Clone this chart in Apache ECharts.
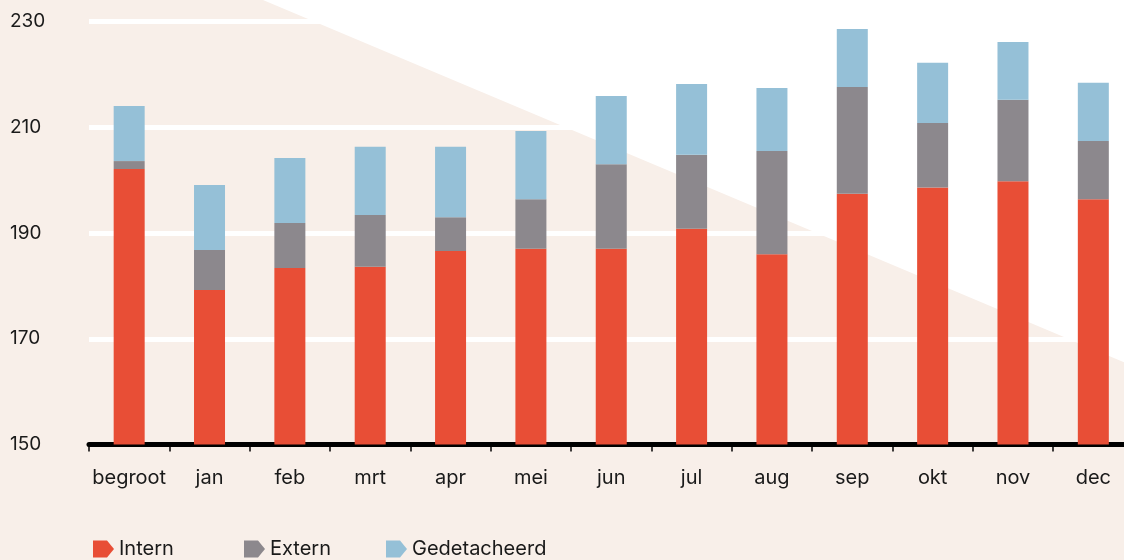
<!DOCTYPE html>
<html>
<head>
<meta charset="utf-8">
<script src="https://cdn.jsdelivr.net/npm/echarts@6/dist/echarts.min.js"></script>
<style>
  html, body { margin: 0; padding: 0; background: #f8efe9; overflow: hidden; }
  #chart { width: 1140px; height: 560px; }
</style>
</head>
<body>
<div id="chart"></div>
<script>
const categories = ['begroot', 'jan', 'feb', 'mrt', 'apr', 'mei', 'jun', 'jul', 'aug', 'sep', 'okt', 'nov', 'dec']
const intern = [202.1, 179.2, 183.4, 183.6, 186.6, 187.0, 187.0, 190.8, 186.0, 197.4, 198.6, 199.8, 196.4]
const extern = [1.5, 7.6, 8.5, 9.8, 6.4, 9.4, 16.0, 14.0, 19.5, 20.2, 12.2, 15.4, 11.0]
const gedetacheerd = [10.4, 12.3, 12.3, 12.9, 13.3, 12.9, 12.9, 13.4, 11.9, 11.0, 11.4, 10.9, 11.0]

const FONT = 'Inter'
const TEXT = '#1a1a1a'
const arrow = 'path://M0,0 L14,0 L21,8.5 L14,17 L0,17 Z'

// the chart runs a bit past the right edge of the window, like the original
var myChart = echarts.init(document.getElementById('chart'))

const legendItem = (name, left) => ({
  data: [name],
  left: left,
  top: 539,
  padding: 0,
  icon: arrow,
  itemWidth: 21,
  itemHeight: 17,
  selectedMode: false,
  textStyle: { fontFamily: FONT, fontSize: 20, color: TEXT, padding: [3, 0, 0, 0] },
})

const barSeries = (name, data, color) => ({
  name: name,
  type: 'bar',
  stack: 'total',
  barWidth: 31,
  itemStyle: { color: color },
  data: data,
})

var option = {
  backgroundColor: '#f8efe9',
  animation: false,
  graphic: [
    {
      type: 'polygon',
      z: -10,
      silent: true,
      shape: { points: [[263, 0], [1140, 0], [1140, 369]] },
      style: { fill: '#ffffff' },
    },
  ],
  legend: [legendItem('Intern', 93), legendItem('Extern', 244), legendItem('Gedetacheerd', 386)],
  grid: { left: 89, top: 21.5, width: 1044.5, bottom: 115.5, containLabel: false },
  xAxis: {
    type: 'category',
    data: categories,
    axisLine: { lineStyle: { color: '#000', width: 5 } },
    axisTick: { show: true, interval: 0, length: 7, lineStyle: { color: '#000', width: 1.5 } },
    axisLabel: { interval: 0, fontFamily: FONT, fontSize: 20, color: TEXT, margin: 23 },
  },
  yAxis: {
    type: 'value',
    min: 150,
    max: 230,
    interval: 20,
    axisLine: { show: false },
    axisTick: { show: false },
    splitLine: { lineStyle: { color: '#ffffff', width: 5 } },
    axisLabel: {
      fontFamily: FONT,
      fontSize: 19,
      color: TEXT,
      align: 'left',
      margin: 79,
      padding: [0, 0, 11, 0],
    },
  },
  series: [
    barSeries('Intern', intern, '#e84e36'),
    barSeries('Extern', extern, '#8c888d'),
    barSeries('Gedetacheerd', gedetacheerd, '#95c0d7'),
  ],
}

myChart.setOption(option)
</script>
</body>
</html>
